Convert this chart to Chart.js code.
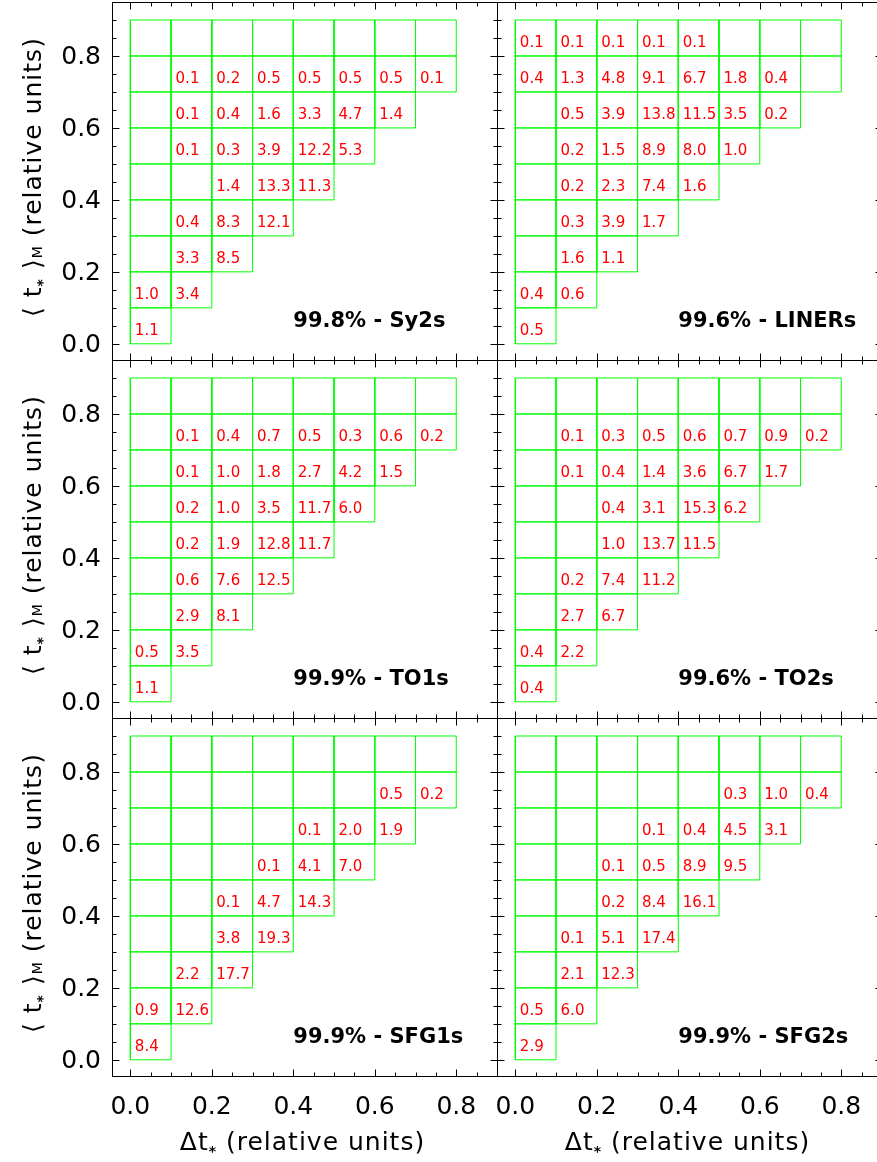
<!DOCTYPE html>
<html>
<head>
<meta charset="utf-8">
<script src="https://cdn.jsdelivr.net/npm/chart.js@4.4.1/dist/chart.umd.min.js"></script>
<style>
html, body { margin: 0; padding: 0; background: #fff; overflow: hidden; width: 877px; height: 1162px; }
canvas { position: absolute; left: 0; top: 0; }
</style>
</head>
<body>
<canvas id="p0" width="890" height="1162"></canvas>
<canvas id="p1" width="890" height="1162"></canvas>
<canvas id="p2" width="890" height="1162"></canvas>
<canvas id="p3" width="890" height="1162"></canvas>
<canvas id="p4" width="890" height="1162"></canvas>
<canvas id="p5" width="890" height="1162"></canvas>
<script>
// tick labels (both axes) and minor tick spacing
const xTickValues = [0.0, 0.2, 0.4, 0.6, 0.8];
const yTickValues = [0.0, 0.2, 0.4, 0.6, 0.8];
const minorStep = 0.05;

// bins are 0.1 wide; number of cells in each row, bottom row first
const binSize = 0.1;
const rowLength = [1, 2, 3, 4, 5, 6, 7, 8, 8];

// percentages per cell, rows bottom (0.0-0.1) to top (0.8-0.9), columns from dt = 0
const sy2s = [
    [1.1],
    [1.0, 3.4],
    [null, 3.3, 8.5],
    [null, 0.4, 8.3, 12.1],
    [null, null, 1.4, 13.3, 11.3],
    [null, 0.1, 0.3, 3.9, 12.2, 5.3],
    [null, 0.1, 0.4, 1.6, 3.3, 4.7, 1.4],
    [null, 0.1, 0.2, 0.5, 0.5, 0.5, 0.5, 0.1],
    []
];
const liners = [
    [0.5],
    [0.4, 0.6],
    [null, 1.6, 1.1],
    [null, 0.3, 3.9, 1.7],
    [null, 0.2, 2.3, 7.4, 1.6],
    [null, 0.2, 1.5, 8.9, 8.0, 1.0],
    [null, 0.5, 3.9, 13.8, 11.5, 3.5, 0.2],
    [0.4, 1.3, 4.8, 9.1, 6.7, 1.8, 0.4],
    [0.1, 0.1, 0.1, 0.1, 0.1]
];
const to1s = [
    [1.1],
    [0.5, 3.5],
    [null, 2.9, 8.1],
    [null, 0.6, 7.6, 12.5],
    [null, 0.2, 1.9, 12.8, 11.7],
    [null, 0.2, 1.0, 3.5, 11.7, 6.0],
    [null, 0.1, 1.0, 1.8, 2.7, 4.2, 1.5],
    [null, 0.1, 0.4, 0.7, 0.5, 0.3, 0.6, 0.2],
    []
];
const to2s = [
    [0.4],
    [0.4, 2.2],
    [null, 2.7, 6.7],
    [null, 0.2, 7.4, 11.2],
    [null, null, 1.0, 13.7, 11.5],
    [null, null, 0.4, 3.1, 15.3, 6.2],
    [null, 0.1, 0.4, 1.4, 3.6, 6.7, 1.7],
    [null, 0.1, 0.3, 0.5, 0.6, 0.7, 0.9, 0.2],
    []
];
const sfg1s = [
    [8.4],
    [0.9, 12.6],
    [null, 2.2, 17.7],
    [null, null, 3.8, 19.3],
    [null, null, 0.1, 4.7, 14.3],
    [null, null, null, 0.1, 4.1, 7.0],
    [null, null, null, null, 0.1, 2.0, 1.9],
    [null, null, null, null, null, null, 0.5, 0.2],
    []
];
const sfg2s = [
    [2.9],
    [0.5, 6.0],
    [null, 2.1, 12.3],
    [null, 0.1, 5.1, 17.4],
    [null, null, 0.2, 8.4, 16.1],
    [null, null, 0.1, 0.5, 8.9, 9.5],
    [null, null, null, 0.1, 0.4, 4.5, 3.1],
    [null, null, null, null, null, 0.3, 1.0, 0.4],
    []
];

const panelValues = [sy2s, liners, to1s, to2s, sfg1s, sfg2s];
const panelLabels = ['99.8% - Sy2s', '99.6% - LINERs', '99.9% - TO1s',
                     '99.6% - TO2s', '99.9% - SFG1s', '99.9% - SFG2s'];

const FONT = '"DejaVu Sans", "Liberation Sans", sans-serif';
Chart.defaults.font.family = FONT;

// layout in page pixels
const AXIS_W = 112, PANEL_W = 385, PANEL_H = 358, TOP = 2, XAXIS_H = 86;
const CANVAS_W = 890, CANVAS_H = 1162;

function cellOutlines() {
    const pts = [];
    rowLength.forEach((n, j) => {
        for (let i = 0; i < n; i++) {
            const x0 = i * binSize, x1 = x0 + binSize, y0 = j * binSize, y1 = y0 + binSize;
            pts.push({x: x0, y: y0}, {x: x1, y: y0}, {x: x1, y: y1}, {x: x0, y: y1}, {x: x0, y: y0}, {x: NaN, y: NaN});
        }
    });
    return pts;
}

function cellPoints(rows) {
    const pts = [];
    rows.forEach((row, j) => {
        row.forEach((v, i) => {
            if (v !== null) pts.push({x: i * binSize, y: j * binSize, v: v});
        });
    });
    return pts;
}

function isMajor(v, list) {
    return list.some(t => Math.abs(t - v) < 1e-6);
}

function drawRich(ctx, parts, x, y) {
    let w = 0;
    parts.forEach(p => { ctx.font = p.font; p.w = ctx.measureText(p.text).width; w += p.w; });
    let cx = x - w / 2;
    parts.forEach(p => { ctx.font = p.font; ctx.fillText(p.text, cx, y + (p.dy || 0)); cx += p.w; });
}

const big = '25px ' + FONT;
const starPart = () => ({text: '*', font: 'bold 14px ' + FONT, dy: 6});
const xTitle = [{text: 'Δt', font: big}, starPart(), {text: ' (relative units)', font: big}];
const yTitle = [{text: '⟨ t', font: big}, starPart(), {text: ' ⟩', font: big},
                {text: 'M', font: '14px ' + FONT, dy: 1}, {text: ' (relative units)', font: big}];

const panelDecor = {
    id: 'panelDecor',
    afterDraw(chart, args, opts) {
        const {ctx, chartArea: a} = chart;
        const xs = chart.scales.x, ys = chart.scales.y;
        ctx.save();

        // red cell values
        const meta = chart.getDatasetMeta(1);
        const vals = chart.data.datasets[1].data;
        ctx.fillStyle = '#ff0000';
        ctx.font = '15px ' + FONT;
        ctx.textBaseline = 'alphabetic';
        ctx.textAlign = 'left';
        meta.data.forEach((el, k) => {
            ctx.fillText(vals[k].v.toFixed(1), el.x + 4.5, el.y - 8.5);
        });

        // frame with inward ticks on all sides
        const L = Math.round(a.left) + 0.5, R = Math.round(a.right) + 0.5;
        const T = Math.round(a.top) + 0.5, B = Math.round(a.bottom) + 0.5;
        ctx.strokeStyle = '#000';
        ctx.lineWidth = 1;
        ctx.strokeRect(L, T, R - L, B - T);
        ctx.beginPath();
        for (let v = 0; v < xs.max - 1e-6; v += minorStep) {
            const px = Math.round(xs.getPixelForValue(v)) + 0.5;
            const len = isMajor(v, xTickValues) ? 7 : 4;
            ctx.moveTo(px, B); ctx.lineTo(px, B - len);
            ctx.moveTo(px, T); ctx.lineTo(px, T + len);
        }
        for (let v = 0; v < ys.max - 1e-6; v += minorStep) {
            const py = Math.round(ys.getPixelForValue(v)) + 0.5;
            const len = isMajor(v, yTickValues) ? 7 : 4;
            ctx.moveTo(L, py); ctx.lineTo(L + len, py);
            ctx.moveTo(R, py); ctx.lineTo(R - len, py);
        }
        ctx.stroke();

        // panel label
        ctx.fillStyle = '#000';
        ctx.font = 'bold 21px ' + FONT;
        ctx.fillText(opts.label, xs.getPixelForValue(0.4), ys.getPixelForValue(0.046));

        // axis titles
        ctx.letterSpacing = '1px';
        if (opts.row === 2) {
            drawRich(ctx, xTitle, (a.left + a.right) / 2 - 2, 1150);
        }
        if (opts.col === 0) {
            ctx.translate(41, (a.top + a.bottom) / 2 - 4);
            ctx.rotate(-Math.PI / 2);
            drawRich(ctx, yTitle, 0, 0);
        }
        ctx.restore();
    }
};

panelValues.forEach((rows, p) => {
    const col = p % 2, row = Math.floor(p / 2);
    const top = TOP + row * PANEL_H;
    const bottom = top + PANEL_H;
    new Chart(document.getElementById('p' + p), {
        type: 'scatter',
        data: {
            datasets: [{
                data: cellOutlines(),
                showLine: true,
                spanGaps: false,
                borderColor: '#00ff00',
                borderWidth: 1,
                pointRadius: 0,
                tension: 0
            }, {
                data: cellPoints(rows),
                pointRadius: 0,
                showLine: false
            }]
        },
        options: {
            responsive: false,
            devicePixelRatio: 1,
            animation: false,
            events: [],
            layout: {
                padding: {
                    left: col * PANEL_W,
                    right: CANVAS_W - (AXIS_W + (col + 1) * PANEL_W),
                    top: top,
                    bottom: CANVAS_H - bottom - XAXIS_H
                }
            },
            plugins: {
                legend: {display: false},
                tooltip: {enabled: false},
                panelDecor: {label: panelLabels[p], col: col, row: row}
            },
            scales: {
                x: {
                    type: 'linear',
                    min: -0.045,
                    max: 0.9,
                    afterBuildTicks: s => { s.ticks = xTickValues.map(v => ({value: v})); },
                    afterFit: s => { s.height = XAXIS_H; s.paddingLeft = 0; s.paddingRight = 0; },
                    grid: {display: false, drawTicks: false},
                    border: {display: false},
                    ticks: {
                        display: row === 2,
                        color: '#000',
                        font: {size: 25},
                        padding: 16,
                        maxRotation: 0,
                        autoSkip: false,
                        callback: v => v.toFixed(1)
                    }
                },
                y: {
                    type: 'linear',
                    min: -0.045,
                    max: 0.95,
                    afterBuildTicks: s => { s.ticks = yTickValues.map(v => ({value: v})); },
                    afterFit: s => { s.width = AXIS_W; s.paddingTop = 0; s.paddingBottom = 0; },
                    grid: {display: false, drawTicks: false},
                    border: {display: false},
                    ticks: {
                        display: col === 0,
                        color: '#000',
                        font: {size: 25},
                        padding: 11,
                        labelOffset: 2,
                        autoSkip: false,
                        callback: v => v.toFixed(1)
                    }
                }
            }
        },
        plugins: [panelDecor]
    });
});
</script>
</body>
</html>
